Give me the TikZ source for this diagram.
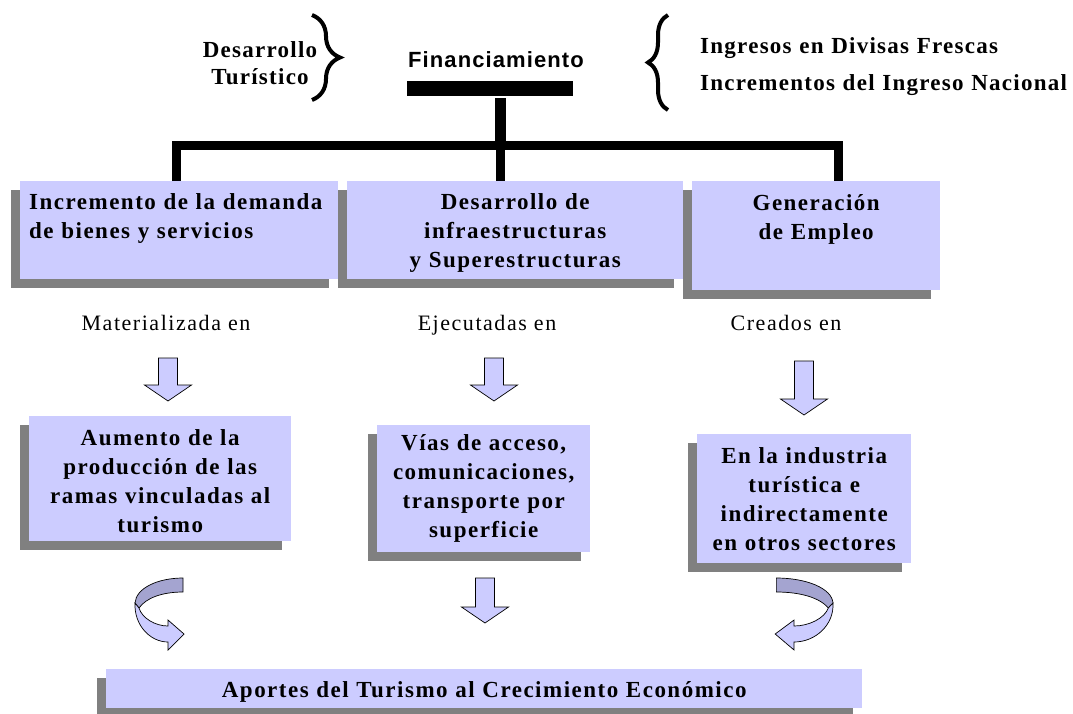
\documentclass[tikz,border=0pt]{standalone}
\usepackage{fontspec}
\setmainfont{Liberation Serif}
\newfontfamily\cajafont{Liberation Serif}[LetterSpace=6.5]
\newfontfamily\altafont{Liberation Serif}[LetterSpace=5.5]
\newfontfamily\finfont{Liberation Sans}[LetterSpace=5]
\newfontfamily\notafont{Liberation Serif}[LetterSpace=7]
\usetikzlibrary{decorations.pathreplacing,shadows}

\definecolor{lila}{RGB}{204,204,255}
\definecolor{lilaosc}{RGB}{164,164,208}
\definecolor{sombra}{RGB}{128,128,128}

\tikzset{
  caja/.style={fill=lila, anchor=north west, inner xsep=6pt, inner ysep=0pt, align=center,
    font=\cajafont\bfseries\fontsize{23}{29}\selectfont,
    general shadow={fill=sombra, shadow xshift=-9pt, shadow yshift=-9pt}},
  nota/.style={anchor=base, font=\notafont\fontsize{22}{26}\selectfont},
  tronco/.style={line width=9pt},
  llave/.style={decorate, line width=4pt},
  flecha/.style={fill=lila, draw=black, line width=0.7pt},
  pics/flechab/.style={code={
    \draw[flecha] (-9.5,0) -- (9.5,0) -- (9.5,#1-16) -- (23.5,#1-16) -- (0,#1) -- (-23.5,#1-16) -- (-9.5,#1-16) -- cycle;}},
  pics/curva/.style={code={
    \draw[flecha, fill=lilaosc] (48,0) .. controls (23,0) and (1,10) .. (0,25) -- (4,30) .. controls (11,20) and (27,14) .. (48,14) -- cycle;
    \draw[flecha] (0,25) .. controls (-1,47) and (15,64) .. (33,64) -- (33,72) -- (49,56) -- (33,42) -- (33,48) .. controls (20,48) and (7,40) .. (4,30) -- cycle;}}
}

\begin{document}
\begin{tikzpicture}[x=1pt, y=-1pt]
\useasboundingbox (0,0) rectangle (1073,713);

% cabecera
\node[font=\finfont\bfseries\fontsize{22}{26}\selectfont, anchor=base] (fin) at (496,67) {Financiamiento};
\node[fill=black, inner sep=0pt, minimum width=166pt, minimum height=15pt] (barra) at (490,88.5) {};
\node[font=\altafont\bfseries\fontsize{23}{27}\selectfont, text width=140pt, align=center, anchor=base, inner sep=0pt] (des) at (260,57) {Desarrollo\\Turístico};
\node[font=\altafont\bfseries\fontsize{23}{37}\selectfont, text width=380pt, align=left, anchor=base west, inner sep=0pt] (ing) at (700,53) {Ingresos en Divisas Frescas\\Incrementos del Ingreso Nacional};
\draw[llave, decoration={brace, amplitude=28pt}] (312,15) -- (312,100);
\draw[llave, decoration={brace, amplitude=20pt}] (668,110) -- (668,15);

% cajas
\node[caja, text width=300pt, align=left, inner xsep=9pt, text height=28pt, text depth=70pt] (dem) at (20,181) {Incremento de la demanda\\de bienes y servicios};
\node[caja, text width=324pt, text height=28pt, text depth=70pt] (inf) at (347,181) {Desarrollo de\\infraestructuras\\y Superestructuras};
\node[caja, text width=236pt, text height=29pt, text depth=80pt] (emp) at (692,181) {Generación\\de Empleo};
\node[caja, text width=250pt, text height=29pt, text depth=96pt] (prod) at (29,416) {Aumento de la\\producción de las\\ramas vinculadas al\\turismo};
\node[caja, text width=209pt, inner xsep=2pt, text height=25pt, text depth=102pt] (vias) at (377,425) {Vías de acceso,\\comunicaciones,\\transporte por\\superficie};
\node[caja, text width=206pt, inner xsep=4pt, text height=29pt, text depth=100pt] (otros) at (697,434) {En la industria\\turística e\\indirectamente\\en otros sectores};
\node[caja, text width=744pt, text height=28pt, text depth=11pt] (apo) at (106,669) {Aportes del Turismo al Crecimiento Económico};

% arbol
\coordinate (c1) at (176,145);
\coordinate (c2) at (500,145);
\coordinate (c3) at (838,145);
\draw[tronco, line width=11pt] (c2 |- barra.south) ++(0,2) -- (c2);
\draw[tronco] (c1 |- dem.north) -- (c1) -- (c3) -- (c3 |- emp.north);
\draw[tronco] (c2) -- (c2 |- inf.north);

% notas y flechas
\node[nota] (mat) at (166,330) {Materializada en};
\node[nota] (eje) at (487,330) {Ejecutadas en};
\node[nota] (cre) at (786,330) {Creados en};
\pic at (168,358) {flechab=43};
\pic at (494,358) {flechab=43};
\pic at (804,361) {flechab=54};
\pic at (485,578) {flechab=45};
\pic at (135,578) {curva};
\pic[xscale=-1.18] at (833,578) {curva};
\end{tikzpicture}
\end{document}
